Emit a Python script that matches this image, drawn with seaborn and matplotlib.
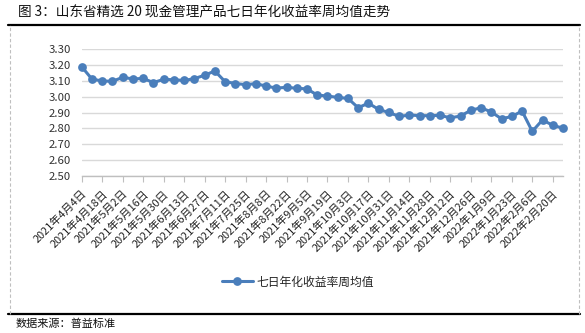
import matplotlib
matplotlib.use("Agg")
import matplotlib.pyplot as plt
from matplotlib.lines import Line2D
import seaborn as sns
import pandas as pd

# Weekly average of the 7-day annualised yield (%) for the 20 selected cash-management products
weeks = [
    "2021年4月4日", "2021年4月11日", "2021年4月18日", "2021年4月25日",
    "2021年5月2日", "2021年5月9日", "2021年5月16日", "2021年5月23日",
    "2021年5月30日", "2021年6月6日", "2021年6月13日", "2021年6月20日",
    "2021年6月27日", "2021年7月4日", "2021年7月11日", "2021年7月18日",
    "2021年7月25日", "2021年8月1日", "2021年8月8日", "2021年8月15日",
    "2021年8月22日", "2021年8月29日", "2021年9月5日", "2021年9月12日",
    "2021年9月19日", "2021年9月26日", "2021年10月3日", "2021年10月10日",
    "2021年10月17日", "2021年10月24日", "2021年10月31日", "2021年11月7日",
    "2021年11月14日", "2021年11月21日", "2021年11月28日", "2021年12月5日",
    "2021年12月12日", "2021年12月19日", "2021年12月26日", "2022年1月2日",
    "2022年1月9日", "2022年1月16日", "2022年1月23日", "2022年1月30日",
    "2022年2月6日", "2022年2月13日", "2022年2月20日", "2022年2月27日",
]
yield_avg = [
    3.190, 3.112, 3.100, 3.098, 3.123, 3.113, 3.116, 3.090,
    3.110, 3.108, 3.103, 3.115, 3.136, 3.163, 3.096, 3.084,
    3.077, 3.083, 3.068, 3.055, 3.060, 3.054, 3.050, 3.011,
    3.005, 2.996, 2.990, 2.931, 2.960, 2.920, 2.901, 2.876,
    2.885, 2.881, 2.881, 2.883, 2.867, 2.879, 2.915, 2.931,
    2.904, 2.861, 2.876, 2.910, 2.782, 2.854, 2.820, 2.802,
]
series_name = "七日年化收益率周均值"
y_ticks = [2.50, 2.60, 2.70, 2.80, 2.90, 3.00, 3.10, 3.20, 3.30]

df = pd.DataFrame({"pos": range(len(weeks)), "week": weeks, "value": yield_avg})

sns.set_theme(style="white")
plt.rcParams["font.family"] = ["Noto Sans CJK SC", "DejaVu Sans"]

W, H = 585, 333
fig = plt.figure(figsize=(W / 100, H / 100), dpi=100)
ax = fig.add_axes([81.7 / W, (H - 176) / H, 481.3 / W, 126.7 / H])

blue = "#4A7EBB"
sns.lineplot(data=df, x="pos", y="value", ax=ax, color=blue, linewidth=2.2,
             marker="o", markersize=6.3, markeredgewidth=0, clip_on=False,
             legend=False)

ax.set_xlim(0, len(weeks) - 1)
ax.set_ylim(y_ticks[0], y_ticks[-1])
ax.set_yticks(y_ticks)
ax.set_yticklabels([f"{v:.2f}" for v in y_ticks], fontsize=8.2, color="#333333")
ax.yaxis.grid(True, color="#D9D9D9", linewidth=1)
ax.xaxis.grid(False)
ax.set_axisbelow(True)
ax.set_xlabel("")
ax.set_ylabel("")

tick_pos = list(range(0, len(weeks), 2))
ax.set_xticks(tick_pos)
ax.set_xticklabels([weeks[i] for i in tick_pos], rotation=45, ha="right",
                   va="top", rotation_mode="anchor", fontsize=7.9,
                   color="#222222")
ax.tick_params(axis="x", direction="out", length=4, width=0.8,
               color="#BFBFBF", pad=5, bottom=True)
ax.tick_params(axis="y", length=0, pad=8)

for side in ("top", "right", "left"):
    ax.spines[side].set_visible(False)
ax.spines["bottom"].set_color("#BFBFBF")
ax.spines["bottom"].set_linewidth(1)

# Legend below the plot
handle = Line2D([], [], color=blue, linewidth=2.2, marker="o", markersize=6.3,
                markeredgewidth=0)
fig.legend([handle], [series_name], loc="center", bbox_to_anchor=(298 / W, 1 - 282 / H),
           frameon=False, fontsize=8.5, handlelength=2.6, handletextpad=0.3)

# Frame: heavy rules top and bottom, dashed grey sides
top_y, bot_y = 1 - 25 / H, 1 - 314 / H
fig.add_artist(Line2D([8 / W, 580 / W], [top_y, top_y], color="black", linewidth=1.6))
fig.add_artist(Line2D([8 / W, 580 / W], [bot_y, bot_y], color="black", linewidth=1.6))
for xs in (9.5 / W, 578.5 / W):
    fig.add_artist(Line2D([xs, xs], [bot_y, top_y], color="#BFBFBF", linewidth=0.8,
                          linestyle=(0, (3, 2))))

fig.text(18 / W, 1 - 13 / H, "图 3：山东省精选 20 现金管理产品七日年化收益率周均值走势",
         fontsize=9.8, va="center", ha="left", color="#111111", fontweight="light")
fig.text(16 / W, 1 - 324 / H, "数据来源：普益标准", fontsize=8, va="center",
         ha="left", color="#111111", fontweight="light")

fig.savefig("out.png", dpi=100)
